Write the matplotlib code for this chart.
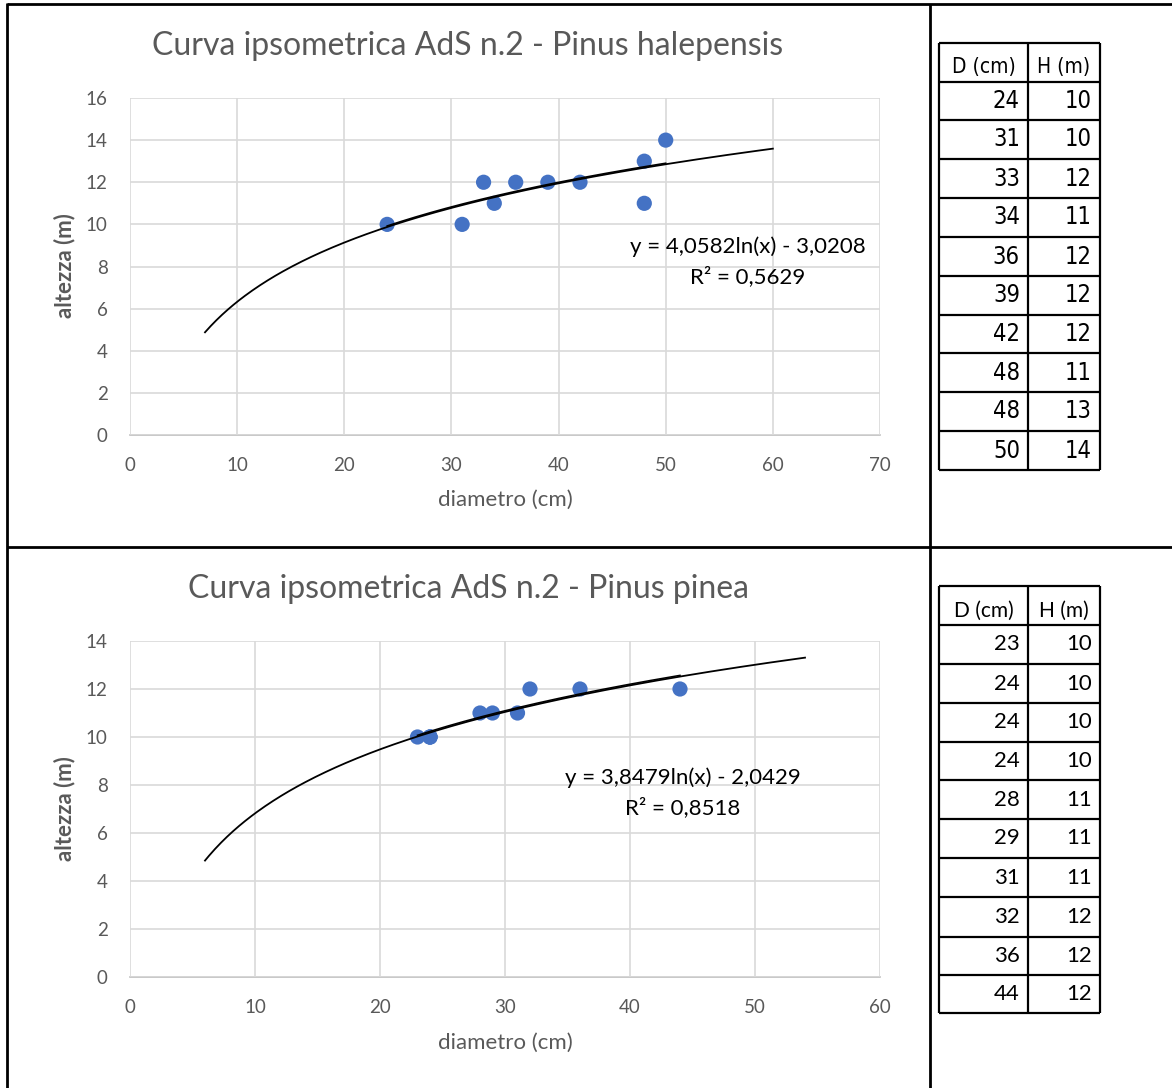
import numpy as np
import matplotlib
matplotlib.use("Agg")
import matplotlib.pyplot as plt
from matplotlib.lines import Line2D

# ---------------- data ----------------
title_top = "Curva ipsometrica AdS n.2 - Pinus halepensis"
title_bot = "Curva ipsometrica AdS n.2 - Pinus pinea"
d_halep = [24, 31, 33, 34, 36, 39, 42, 48, 48, 50]
h_halep = [10, 10, 12, 11, 12, 12, 12, 11, 13, 14]
d_pinea = [23, 24, 24, 24, 28, 29, 31, 32, 36, 44]
h_pinea = [10, 10, 10, 10, 11, 11, 11, 12, 12, 12]
coef_halep = (4.0582, -3.0208)
coef_pinea = (3.8479, -2.0429)
eq_halep = ["y = 4,0582ln(x) - 3,0208", "R² = 0,5629"]
eq_pinea = ["y = 3,8479ln(x) - 2,0429", "R² = 0,8518"]
trend_range_halep = (7, 60)
trend_range_pinea = (6, 54)
table_header = ["D (cm)", "H (m)"]

W, H = 1172, 1088
fig = plt.figure(figsize=(W / 100, H / 100), dpi=100)
fig.patch.set_facecolor("white")

FONT = ["Lato", "DejaVu Sans"]
GRAY = "#595959"
BLUE = "#4472C4"


def add_ax_px(x0, y0, x1, y1):
    return fig.add_axes([x0 / W, 1 - y1 / H, (x1 - x0) / W, (y1 - y0) / H])


def chart(box, xs, ys, coef, eq, rng, xmax, ymax, title, title_xy, eq_xy,
          ylab_xy, xlab_xy):
    ax = add_ax_px(*box)
    ax.set_xlim(0, xmax)
    ax.set_ylim(0, ymax)
    ax.set_xticks(np.arange(0, xmax + 1, 10))
    ax.set_yticks(np.arange(0, ymax + 1, 2))
    ax.grid(True, color="#D9D9D9", lw=1.2)
    ax.set_axisbelow(True)
    for s in ["top", "right", "left"]:
        ax.spines[s].set_visible(False)
    ax.spines["bottom"].set_color("#BFBFBF")
    ax.spines["bottom"].set_linewidth(1.2)
    ax.tick_params(length=0, labelsize=13.5, colors=GRAY)
    for lab in ax.get_xticklabels() + ax.get_yticklabels():
        lab.set_family(FONT)
    ax.tick_params(axis="x", pad=16)
    ax.tick_params(axis="y", pad=16)
    ax.scatter(xs, ys, s=120, color=BLUE, zorder=3, edgecolors="none")
    a, b = coef
    xx = np.linspace(rng[0], rng[1], 300)
    ax.plot(xx, a * np.log(xx) + b, color="black", lw=1.3, zorder=4)
    xx2 = np.linspace(min(xs), max(xs), 200)
    ax.plot(xx2, a * np.log(xx2) + b + 0.05, color="black", lw=1.1, zorder=4)
    for s in ax.spines.values():
        s.set_zorder(0)
    fig.text(title_xy[0] / W, 1 - title_xy[1] / H, title, ha="center",
             va="center", fontsize=23, color=GRAY, family=FONT)
    fig.text(eq_xy[0] / W, 1 - eq_xy[1] / H, eq[0], ha="center", va="center",
             fontsize=16, color="black", family=FONT)
    fig.text(eq_xy[0] / W, 1 - (eq_xy[1] + 30) / H, eq[1], ha="center",
             va="center", fontsize=16, color="black", family=FONT)
    fig.text(ylab_xy[0] / W, 1 - ylab_xy[1] / H, "altezza (m)", rotation=90,
             ha="center", va="center", fontsize=16, color=GRAY,
             family=FONT, fontweight="bold")
    fig.text(xlab_xy[0] / W, 1 - xlab_xy[1] / H, "diametro (cm)", ha="center",
             va="center", fontsize=16, color=GRAY, family=FONT)
    return ax


chart((130, 98, 880, 435), d_halep, h_halep, coef_halep, eq_halep,
      trend_range_halep, 70, 16, title_top, (468, 46), (748, 247),
      (65, 266), (505, 500))
chart((130, 641, 880, 977), d_pinea, h_pinea, coef_pinea, eq_pinea,
      trend_range_pinea, 60, 14, title_bot, (468, 589), (683, 778),
      (65, 809), (505, 1043))

# ---------------- overlay: borders and tables ----------------
ov = fig.add_axes([0, 0, 1, 1], zorder=10)
ov.set_xlim(0, W)
ov.set_ylim(H, 0)
ov.axis("off")
ov.patch.set_alpha(0)

def ln(x0, y0, x1, y1, lw=2):
    ov.add_line(Line2D([x0, x1], [y0, y1], color="black", lw=lw,
                       solid_capstyle="butt"))

ln(7, 3, 7, H)
ln(7, 4, W, 4)
ln(7, 547, W, 547)
ln(930, 4, 930, H)


def table(rows_bounds, d, h, font, fs, hfs, stretch="normal"):
    xs = [939, 1028, 1100]
    ys = rows_bounds
    for y in ys:
        ln(xs[0], y, xs[2], y, lw=1.6)
    for x in xs:
        ln(x, ys[0], x, ys[-1], lw=1.6)
    kw = dict(family=font, stretch=stretch)
    ov.text((xs[0] + xs[1]) / 2, (ys[0] + ys[1]) / 2 + 5, table_header[0],
            ha="center", va="center", fontsize=hfs, **kw)
    ov.text((xs[1] + xs[2]) / 2, (ys[0] + ys[1]) / 2 + 5, table_header[1],
            ha="center", va="center", fontsize=hfs, **kw)
    for i, (dv, hv) in enumerate(zip(d, h)):
        yc = (ys[i + 1] + ys[i + 2]) / 2
        ov.text(xs[1] - 8, yc, str(dv), ha="right", va="center",
                fontsize=fs, **kw)
        ov.text(xs[2] - 8, yc, str(hv), ha="right", va="center",
                fontsize=fs, **kw)

top_rows = [43, 82, 120, 159, 198, 237, 276, 315, 353, 392, 431, 470]
bot_rows = [586, 625, 664, 703, 742, 780, 819, 858, 897, 937, 975, 1013]
table(top_rows, d_halep, h_halep, ["DejaVu Sans"], 17, 15, "condensed")
table(bot_rows, d_pinea, h_pinea, FONT, 16, 15)

fig.savefig("out.png", dpi=100)
